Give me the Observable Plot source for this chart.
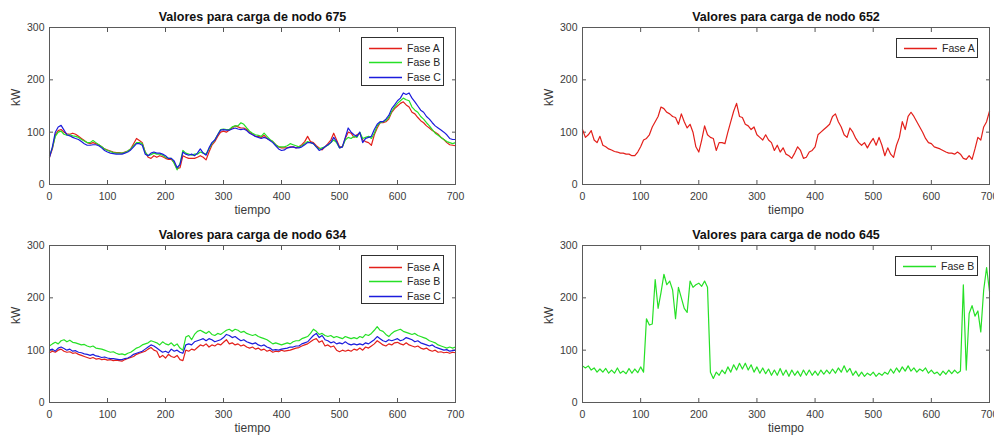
<!DOCTYPE html>
<html><head><meta charset="utf-8">
<script src="https://cdn.jsdelivr.net/npm/d3@7"></script>
<script src="https://cdn.jsdelivr.net/npm/@observablehq/plot@0.6"></script>
<style>
body{margin:0;background:#fff;}
#fig{position:relative;width:994px;height:439px;overflow:hidden;background:#fff;font-family:"Liberation Sans",Arial,sans-serif;}
.legend{position:absolute;box-sizing:border-box;border:1px solid #303030;background:#fff;font-size:10.5px;color:#262626;}
.legend .row{position:absolute;left:0;height:14px;line-height:14px;white-space:nowrap;}
.legend svg{position:absolute;left:7px;top:0;}
.legend .lab{position:absolute;left:45px;top:0;}
</style></head><body><div id="fig"></div>
<script>
// ---------- data ----------
const tiempo = d3.range(0, 701, 5);
const xTicks = [0, 100, 200, 300, 400, 500, 600, 700];
const yTicks = [0, 100, 200, 300];
const titles = ["Valores para carga de nodo 675", "Valores para carga de nodo 652", "Valores para carga de nodo 634", "Valores para carga de nodo 645"];
const fases = ["Fase A", "Fase B", "Fase C"];
const xLabel = "tiempo";
const yLabel = "kW";

const n675_A = [52,68,95,103,105,100,97,96,98,96, 92,88,84,80,78,80,78,76,72,68, 66,64,62,61,61,60,62,64,68,78, 88,84,80,62,52,50,55,52,55,53, 50,48,48,42,30,32,55,52,50,50, 50,52,55,52,47,62,75,82,92,100, 102,100,104,108,112,110,108,108,105,100, 96,92,92,90,94,88,85,82,76,72, 70,70,70,72,72,70,72,76,82,92, 82,80,74,70,66,72,78,85,98,85, 72,72,88,100,98,90,95,98,85,82, 80,75,95,108,118,118,120,125,138,145, 150,155,158,152,148,138,135,128,122,118, 112,108,103,100,96,90,86,80,76,75, 74];
const n675_B = [55,70,92,100,102,96,94,95,93,92, 90,86,83,80,80,84,80,76,72,68, 65,63,61,60,60,60,61,64,68,74, 80,80,78,62,55,57,60,58,58,56, 52,50,50,40,28,40,65,60,58,56, 58,58,62,60,58,68,78,85,95,105, 106,105,105,110,112,112,118,115,108,102, 98,95,94,92,98,92,86,82,76,72, 72,72,74,78,76,74,72,74,78,82, 80,78,72,68,70,72,75,80,85,80, 70,72,85,90,88,92,90,100,88,90, 92,88,98,112,118,120,122,128,140,148, 155,160,165,162,160,148,142,138,130,125, 118,112,105,98,94,90,86,82,80,78, 80];
const n675_C = [52,72,100,110,113,104,95,93,90,88, 86,82,78,75,75,76,76,74,70,65, 62,60,59,58,58,58,60,62,66,72, 78,78,75,58,55,60,62,60,60,58, 55,50,50,45,32,38,62,58,56,58, 55,60,68,60,56,70,80,85,95,104, 105,104,104,106,108,106,105,106,103,98, 95,92,90,88,90,88,84,80,74,68, 65,66,70,71,72,70,70,72,76,80, 80,78,72,65,68,72,76,80,90,82, 70,72,90,108,100,95,92,100,80,88, 90,92,105,115,120,120,125,132,145,152, 160,165,175,172,175,165,158,150,142,138, 130,125,118,112,108,104,100,95,88,86, 86];

const n652_A = [105,90,95,103,85,80,92,75,72,68, 66,63,62,60,60,58,58,55,55,62, 72,85,88,95,110,120,130,148,145,138, 135,130,128,115,135,120,108,115,100,72, 62,85,112,95,90,88,65,80,80,78, 100,120,140,155,130,128,115,112,105,110, 95,90,85,95,85,80,65,75,62,70, 58,55,50,60,72,65,50,52,62,65, 72,95,100,105,110,115,130,135,120,110, 95,90,108,100,88,80,75,80,70,80, 88,75,90,75,55,70,58,52,75,90, 120,105,130,138,130,120,110,100,88,80, 78,72,70,68,65,62,60,60,58,62, 58,50,48,55,48,68,90,85,110,120, 140];

const n634_A = [95,98,96,100,102,98,96,97,94,95, 92,90,88,86,84,86,83,84,82,83, 81,82,80,81,80,79,82,84,86,88, 92,94,96,98,102,105,100,98,86,90, 85,92,88,86,90,82,80,100,98,102, 100,105,110,108,112,106,110,108,112,110, 115,120,112,114,110,112,108,110,106,104, 106,102,104,100,102,98,100,96,98,97, 100,98,99,100,102,104,105,108,110,112, 116,120,122,115,118,108,110,106,108,100, 97,100,98,100,98,102,100,104,100,106, 104,108,112,118,114,110,108,112,110,114, 115,112,110,114,110,108,106,108,104,102, 104,100,98,100,96,97,95,96,94,96, 95];
const n634_B = [108,112,115,112,118,120,116,119,115,114, 112,110,111,108,106,108,104,103,102,100, 98,96,97,94,92,93,91,94,96,100, 104,106,110,112,114,118,116,114,110,116, 112,110,114,108,112,104,100,125,128,120, 130,136,138,135,132,136,130,128,132,130, 134,138,140,136,140,138,134,136,132,130, 128,130,126,124,122,120,116,112,114,112, 110,112,114,112,116,118,118,122,124,126, 132,140,136,130,132,128,126,128,124,126, 124,122,126,124,122,124,122,126,124,130, 128,132,138,145,138,136,130,126,132,136, 138,140,136,134,132,130,132,128,126,124, 122,118,116,114,110,108,106,104,106,104, 106];
const n634_C = [100,102,98,104,106,103,100,102,98,99, 96,95,93,92,90,92,89,88,86,87, 85,84,84,83,82,82,84,85,88,92, 94,96,98,102,106,110,108,104,100,96, 98,95,102,98,100,96,94,110,112,110, 116,118,120,122,118,122,120,116,118,120, 124,130,128,124,126,122,118,120,116,114, 112,114,110,108,110,106,104,100,101,100, 102,103,104,106,106,108,108,112,114,116, 122,128,132,124,128,120,118,114,116,112, 114,112,116,112,110,112,110,112,110,114, 112,116,120,126,122,118,116,120,118,120, 122,118,120,124,122,120,116,118,114,112, 110,108,110,106,104,102,100,101,98,99, 100];

const n645_B = [70,66,70,62,66,58,64,58,65,56, 62,56,66,56,60,55,65,56,64,57, 68,58,160,148,150,235,180,210,245,225, 232,215,160,220,200,180,172,232,220,225, 228,222,232,220,58,46,58,52,62,55, 68,58,72,62,75,64,75,62,72,58, 68,56,66,55,64,52,62,52,65,52, 62,50,62,52,60,50,62,52,62,52, 60,52,62,54,62,55,64,56,66,58, 70,58,65,52,60,50,58,50,56,52, 58,50,56,52,58,54,64,56,66,58, 68,60,70,60,66,58,64,60,66,56, 62,55,58,52,60,54,62,55,62,56, 60,225,62,170,185,165,175,135,215,258, 212];

const faseColors = ["#e3201b", "#26e026", "#1c1cdc"];

// ---------- drawing ----------
const root = document.getElementById("fig");
const FONT = "Liberation Sans, Arial, sans-serif";
const SVGNS = "http://www.w3.org/2000/svg";

function panel(cfg) {
  const data = cfg.series.flatMap(s => s.values.map((v, i) => ({t: tiempo[i], v, s: s.name})));
  const W = 497;
  const svg = Plot.plot({
    width: W, height: cfg.h,
    marginLeft: cfg.ml, marginRight: cfg.mr, marginTop: cfg.mt, marginBottom: cfg.mb,
    style: {fontFamily: FONT, fontSize: "10.5px", color: "#3a3a3a", background: "transparent", overflow: "visible"},
    x: {domain: [0, 700], ticks: xTicks},
    y: {domain: [0, 300], ticks: yTicks},
    color: {domain: fases, range: faseColors},
    marks: [
      Plot.axisX({ticks: xTicks, tickSize: 0, tickPadding: 8, label: null}),
      Plot.axisX({ticks: xTicks, anchor: "bottom", tickSize: -4, tickFormat: () => "", label: null, stroke: "#555"}),
      Plot.axisX({ticks: xTicks, anchor: "top", tickSize: -4, tickFormat: () => "", label: null, stroke: "#555"}),
      Plot.axisY({ticks: yTicks, tickSize: 0, tickPadding: 5, label: null}),
      Plot.axisY({ticks: yTicks, anchor: "left", tickSize: -4, tickFormat: () => "", label: null, stroke: "#555"}),
      Plot.axisY({ticks: yTicks, anchor: "right", tickSize: -4, tickFormat: () => "", label: null, stroke: "#555"}),
      Plot.line(data, {x: "t", y: "v", z: "s", stroke: "s", strokeWidth: 1.2}),
      Plot.frame({stroke: "#5a5a5a", strokeWidth: 1}),
      Plot.text([cfg.title], {text: d => d, frameAnchor: "top", dy: -7, lineAnchor: "bottom", fontWeight: "bold", fontSize: 12.5, fill: "#111"}),
      Plot.text([xLabel], {text: d => d, frameAnchor: "bottom", dy: 21, lineAnchor: "top", fontSize: 12, fill: "#3a3a3a"}),
      Plot.text([yLabel], {text: d => d, frameAnchor: "left", dx: -33, rotate: -90, fontSize: 12, fill: "#3a3a3a"})
    ]
  });
  svg.style.position = "absolute";
  svg.style.left = cfg.left + "px";
  svg.style.top = cfg.top + "px";
  root.appendChild(svg);

  const lg = document.createElement("div");
  lg.className = "legend";
  lg.style.left = cfg.lg.x + "px";
  lg.style.top = cfg.lg.y + "px";
  lg.style.width = cfg.lg.w + "px";
  lg.style.height = cfg.lg.h + "px";
  cfg.series.forEach((s, i) => {
    const row = document.createElement("div");
    row.className = "row";
    row.style.top = (cfg.lg.pad + Math.round(i * 14.3)) + "px";
    row.style.width = "100%";
    const sw = document.createElementNS(SVGNS, "svg");
    sw.setAttribute("width", "34");
    sw.setAttribute("height", "14");
    const ln = document.createElementNS(SVGNS, "line");
    ln.setAttribute("x1", "0"); ln.setAttribute("x2", "33");
    ln.setAttribute("y1", "7.5"); ln.setAttribute("y2", "7.5");
    ln.setAttribute("stroke", faseColors[fases.indexOf(s.name)]);
    ln.setAttribute("stroke-width", "1.3");
    sw.appendChild(ln);
    const lab = document.createElement("span");
    lab.className = "lab";
    lab.textContent = s.name;
    row.appendChild(sw); row.appendChild(lab);
    lg.appendChild(row);
  });
  root.appendChild(lg);
}

panel({title: titles[0], left: 0, top: 0, h: 220, ml: 49, mr: 42, mt: 27, mb: 36,
  series: [{name: "Fase A", values: n675_A}, {name: "Fase B", values: n675_B}, {name: "Fase C", values: n675_C}],
  lg: {x: 361, y: 37, w: 83, h: 49, pad: 3}});
panel({title: titles[1], left: 497, top: 0, h: 220, ml: 85, mr: 5, mt: 27, mb: 36,
  series: [{name: "Fase A", values: n652_A}],
  lg: {x: 896, y: 38, w: 82, h: 20, pad: 2}});
panel({title: titles[2], left: 0, top: 220, h: 219, ml: 49, mr: 42, mt: 25, mb: 37,
  series: [{name: "Fase A", values: n634_A}, {name: "Fase B", values: n634_B}, {name: "Fase C", values: n634_C}],
  lg: {x: 361, y: 255, w: 83, h: 49, pad: 4}});
panel({title: titles[3], left: 497, top: 220, h: 219, ml: 85, mr: 5, mt: 25, mb: 37,
  series: [{name: "Fase B", values: n645_B}],
  lg: {x: 895, y: 256, w: 83, h: 20, pad: 2}});
</script>
</body></html>
